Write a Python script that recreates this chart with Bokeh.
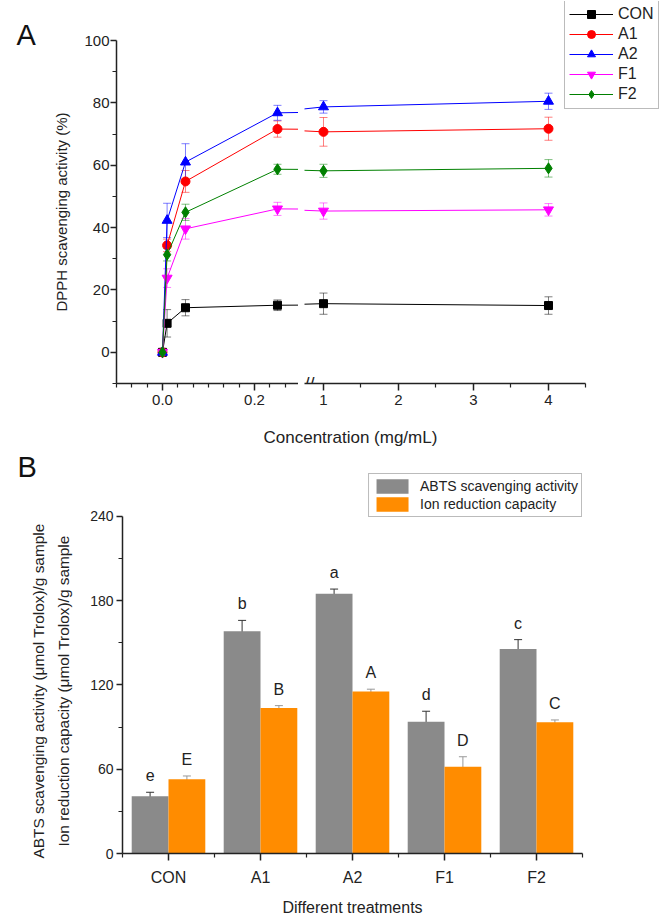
from bokeh.plotting import figure
from bokeh.models import (ColumnDataSource, Range1d, FixedTicker, Whisker, TeeHead,
                          Legend, LegendItem, Label, LabelSet, Title)
from bokeh.core.properties import value
from bokeh.layouts import column, row
from bokeh.transform import dodge
from bokeh.embed import file_html
from bokeh.resources import INLINE

FONT = "Liberation Sans"

# ---------------- Panel A data ----------------
conc = [0, 0.01, 0.05, 0.25, 1, 4]
series_names = ["CON", "A1", "A2", "F1", "F2"]
con_mean = [0, 9.3, 14.3, 15.1, 15.6, 15.0]
con_err = [0, 4.4, 2.6, 1.7, 3.4, 2.8]
a1_mean = [0, 34.3, 54.8, 71.6, 70.7, 71.7]
a1_err = [0, 2.0, 3.5, 2.6, 4.6, 3.7]
a2_mean = [0, 42.3, 61.0, 76.8, 78.7, 80.5]
a2_err = [0, 5.5, 5.9, 2.4, 2.0, 2.6]
f1_mean = [0, 23.8, 39.6, 46.0, 45.3, 45.7]
f1_err = [0, 3.0, 3.3, 2.1, 2.6, 2.0]
f2_mean = [0, 31.3, 44.9, 58.7, 58.2, 59.0]
f2_err = [0, 2.0, 2.6, 1.6, 2.1, 2.8]

# ---------------- Panel B data ----------------
treatments = ["CON", "A1", "A2", "F1", "F2"]
abts = [40.7, 158.3, 185.0, 93.9, 145.7]
abts_err = [2.9, 7.7, 3.3, 7.4, 6.6]
irc = [52.8, 103.6, 115.3, 61.8, 93.4]
irc_err = [2.4, 1.7, 1.7, 7.1, 1.7]
abts_letters = ["e", "b", "a", "d", "c"]
irc_letters = ["E", "B", "A", "D", "C"]

colors = ["#000000", "#ff0000", "#0000ff", "#ff00ff", "#008000"]
markers = ["square", "circle", "triangle", "inverted_triangle", "diamond"]
msizes = [8, 9, 10, 10, 11]
means = [con_mean, a1_mean, a2_mean, f1_mean, f2_mean]
errs = [con_err, a1_err, a2_err, f1_err, f2_err]

AX = "#222222"


def style_axis(ax, tick_size):
    ax.axis_line_color = AX
    ax.axis_line_width = 1.5
    ax.major_tick_line_color = AX
    ax.major_tick_line_width = 1.5
    ax.minor_tick_line_color = AX
    ax.minor_tick_line_width = 1.2
    ax.major_tick_in = 0
    ax.major_tick_out = 7
    ax.minor_tick_in = 0
    ax.minor_tick_out = 4
    ax.major_label_text_font = FONT
    ax.major_label_text_font_size = tick_size
    ax.major_label_text_color = AX
    ax.axis_label_text_font = FONT
    ax.axis_label_text_font_style = "normal"
    ax.axis_label_text_color = AX


def base_fig(**kw):
    p = figure(output_backend="svg", toolbar_location=None, frame_align=False, **kw)
    p.grid.visible = False
    p.outline_line_color = None
    p.background_fill_color = "white"
    p.border_fill_color = "white"
    return p


def title(text, size, **kw):
    return Title(text=text, text_font=FONT, text_font_size=size, text_font_style="normal",
                 text_color=kw.pop("color", AX), **kw)


# ---------------- Panel A (broken x axis: two figures side by side) ----------------
TOP_H = 413
pa = base_fig(width=298, height=TOP_H, x_range=Range1d(-0.1, 0.2957), y_range=Range1d(-10, 100),
              min_border_left=116, min_border_right=0, min_border_top=40, min_border_bottom=30)
pb_start = 0.7467
pb = base_fig(width=363, height=TOP_H, x_range=Range1d(pb_start, 5.5067), y_range=Range1d(-10, 112.5),
              y_axis_location=None,
              min_border_left=6, min_border_right=0, min_border_top=1, min_border_bottom=30)

pa.yaxis.ticker = FixedTicker(ticks=[0, 20, 40, 60, 80, 100], minor_ticks=[-10, 10, 30, 50, 70, 90])
pa.yaxis.axis_label = "DPPH scavenging activity (%)"
style_axis(pa.yaxis[0], "15px")
pa.yaxis.axis_label_text_font_size = "15px"
pa.yaxis.major_tick_out = 6
pa.yaxis.major_label_standoff = 1
pa.yaxis.axis_label_standoff = 11

pa.xaxis.ticker = FixedTicker(ticks=[0.0, 0.2],
                              minor_ticks=[-0.1, -0.0667, -0.0333, 0.0333, 0.0667, 0.1,
                                           0.1333, 0.1667, 0.2333, 0.2667])
pa.xaxis.major_label_overrides = {0: "0.0", 0.2: "0.2"}
style_axis(pa.xaxis[0], "15px")
pa.xaxis.major_label_standoff = 4

pb.xaxis.ticker = FixedTicker(ticks=[1, 2, 3, 4], minor_ticks=[1.5, 2.5, 3.5, 4.5])
pb.xaxis.bounds = (pb_start, 4.5)
style_axis(pb.xaxis[0], "15px")
pb.xaxis.major_label_standoff = 4

legend_items = []
for name, c, m, s, mean, err in zip(series_names, colors, markers, msizes, means, errs):
    lo = [v - e for v, e in zip(mean, err)]
    hi = [v + e for v, e in zip(mean, err)]
    for p in (pa, pb):
        src = ColumnDataSource(dict(x=conc, y=mean, lo=lo, hi=hi))
        w = Whisker(base="x", upper="hi", lower="lo", source=src,
                    line_color=c, line_alpha=0.5, line_width=1,
                    upper_head=TeeHead(size=8, line_color=c, line_alpha=0.5, line_width=1),
                    lower_head=TeeHead(size=8, line_color=c, line_alpha=0.5, line_width=1))
        p.add_layout(w)
        lr = p.line("x", "y", source=src, line_color=c, line_width=1)
        sr = p.scatter("x", "y", source=src, marker=m, size=s, fill_color=c, line_color=c)
        if p is pb:
            legend_items.append(LegendItem(label=name, renderers=[lr, sr]))

leg = Legend(items=legend_items, location=(260, 274),
             label_text_font=FONT, label_text_font_size="16px", label_text_color=AX,
             glyph_width=44, glyph_height=20, label_height=20, label_standoff=5,
             spacing=0, padding=4, margin=0,
             border_line_color="#777777", border_line_width=1,
             background_fill_color="white", background_fill_alpha=1)
pb.add_layout(leg)

# axis break marks
pb.add_layout(Label(x=0, y=0, x_units="screen", y_units="screen", text="//",
                    text_align="left", text_baseline="alphabetic",
                    text_font=FONT, text_font_size="18px", text_color=AX))

pa.add_layout(title("A", "29px", align="left", offset=-100, standoff=-21, color="#111111"), "above")

# ---------------- Panel B ----------------
pos = [i + 0.5 for i in range(len(treatments))]
bsrc = ColumnDataSource(dict(
    pos=pos, abts=abts, irc=irc,
    abts_lo=[v - e for v, e in zip(abts, abts_err)], abts_hi=[v + e for v, e in zip(abts, abts_err)],
    irc_lo=[v - e for v, e in zip(irc, irc_err)], irc_hi=[v + e for v, e in zip(irc, irc_err)],
    abts_lab=abts_letters, irc_lab=irc_letters))

BOT_H = 918 - TOP_H
pc = base_fig(width=661, height=BOT_H, x_range=Range1d(0, len(treatments)), y_range=Range1d(0, 270.6),
              min_border_left=122, min_border_right=79, min_border_top=60, min_border_bottom=65)

GRAY = "#8a8a8a"
ORANGE = "#ff8c00"
r1 = pc.vbar(x=dodge("pos", -0.2, range=pc.x_range), top="abts", width=0.4, source=bsrc,
             fill_color=GRAY, line_color=None)
r2 = pc.vbar(x=dodge("pos", 0.2, range=pc.x_range), top="irc", width=0.4, source=bsrc,
             fill_color=ORANGE, line_color=None)

for off, lo, hi, col in ((-0.2, "abts_lo", "abts_hi", "#333333"), (0.2, "irc_lo", "irc_hi", "#999999")):
    pc.add_layout(Whisker(base=dodge("pos", off, range=pc.x_range), upper=hi, lower=lo, source=bsrc,
                          line_color=col, line_width=1,
                          upper_head=TeeHead(size=8, line_color=col, line_width=1),
                          lower_head=TeeHead(size=8, line_color=col, line_width=1)))

for off, hi, lab in ((-0.2, "abts_hi", "abts_lab"), (0.2, "irc_hi", "irc_lab")):
    pc.add_layout(LabelSet(x=dodge("pos", off, range=pc.x_range), y=hi, text=lab, source=bsrc,
                           y_offset=11, text_align="center", text_baseline="alphabetic",
                           text_font=value(FONT), text_font_size=value("16px"), text_color=AX))

pc.yaxis.ticker = FixedTicker(ticks=[0, 60, 120, 180, 240], minor_ticks=[30, 90, 150, 210])
pc.yaxis.bounds = (0, 240)
style_axis(pc.yaxis[0], "14px")
pc.yaxis.major_tick_out = 6
pc.yaxis.major_label_standoff = 3

pc.xaxis.ticker = FixedTicker(ticks=pos, minor_ticks=list(range(len(treatments) + 1)))
pc.xaxis.major_label_overrides = {p_: t for p_, t in zip(pos, treatments)}
pc.xaxis.axis_label = "Different treatments"
style_axis(pc.xaxis[0], "16px")
pc.xaxis.axis_label_text_font_size = "16px"
pc.xaxis.major_label_standoff = 8
pc.xaxis.axis_label_standoff = 10

# two-line y axis title, drawn as stacked left titles (inner line first)
pc.add_layout(title("Ion reduction capacity (\u03bcmol Trolox)/g sample", "15.4px",
                    align="left", offset=7, standoff=31), "left")
pc.add_layout(title("ABTS scavenging activity (\u03bcmol Trolox)/g sample", "15.4px",
                    align="left", offset=-5, standoff=-19), "left")

leg2 = Legend(items=[LegendItem(label="ABTS scavenging activity", renderers=[r1]),
                     LegendItem(label="Ion reduction capacity", renderers=[r2])],
              location="top_right",
              label_text_font=FONT, label_text_font_size="14px", label_text_color=AX,
              glyph_width=40, glyph_height=18, label_height=18, label_standoff=8,
              spacing=0, padding=3, margin=0,
              border_line_color="#777777", border_line_width=1,
              background_fill_color="white", background_fill_alpha=1)
pc.add_layout(leg2)

pc.add_layout(title("B", "29px", align="left", offset=-105, standoff=-18, color="#111111"), "above")
pc.add_layout(title("Concentration (mg/mL)", "17px", align="left", offset=263 - 122, standoff=17,
                    vertical_align="top"), "above")

layout = column(row(pa, pb), pc)
open("out.html", "w").write(file_html(layout, INLINE))
